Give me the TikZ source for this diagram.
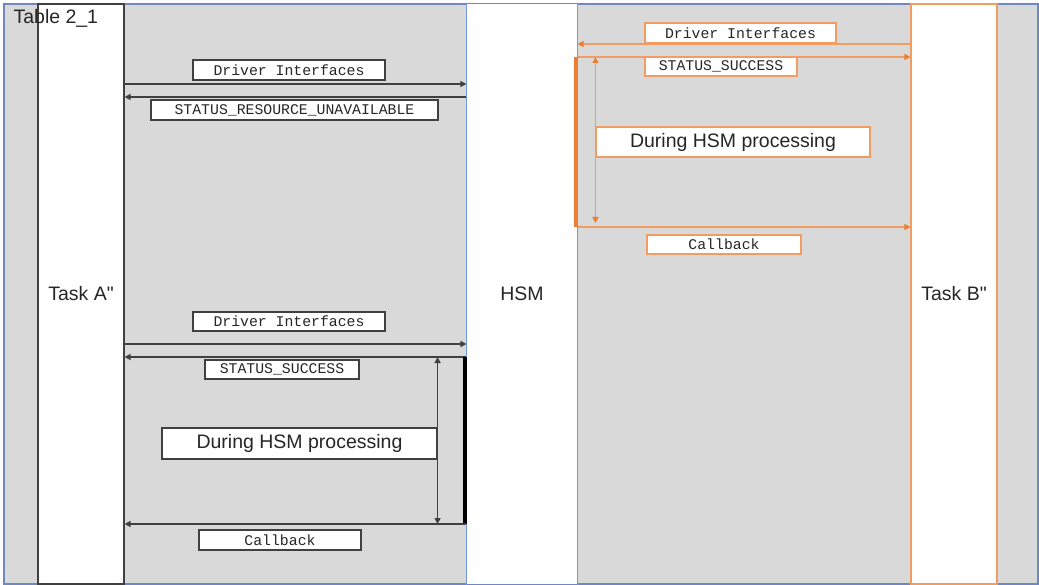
\documentclass[tikz,border=0pt]{standalone}
\usepackage{fontspec}
\setmainfont{Liberation Sans}[Ligatures=TeXOff]
\setmonofont{Liberation Mono}
\usetikzlibrary{positioning, arrows.meta, calc}
\definecolor{sqFill}{HTML}{D9D9D9}
\definecolor{sqLine}{HTML}{404040}
\definecolor{sqText}{HTML}{262626}
\definecolor{sqFrame}{HTML}{6F88BF}
\definecolor{sqBlue}{HTML}{7297DB}
\definecolor{sqOrange}{HTML}{ED7D31}
\definecolor{sqPeach}{HTML}{F29C62}
\tikzset{
  sq/.style={x=1pt, y=-1pt, line width=1.1pt, text=sqText, font=\fontsize{19.5}{22}\selectfont},
  frame/.style={draw=sqFrame, fill=sqFill, minimum width=1034, minimum height=580, inner sep=0pt},
  lane/.style={draw=sqLine, fill=white, minimum height=580, inner sep=0pt},
  msg/.style={draw=sqLine, fill=white, font=\ttfamily\fontsize{14.8}{16}\selectfont, minimum height=20, inner sep=0pt},
  note/.style={msg, font=\fontsize{19.5}{22}\selectfont, minimum height=31},
  omsg/.style={msg, draw=sqPeach},
  onote/.style={note, draw=sqPeach},
  arr/.style={draw=sqLine, line width=1.3pt, -{Triangle[length=6pt, width=6pt]}},
  both/.style={draw=sqLine, line width=1.3pt, {Triangle[length=6pt, width=6pt]}-{Triangle[length=6pt, width=6pt]}},
  oarr/.style={draw=sqPeach, line width=1.3pt, -{Triangle[length=6pt, width=6pt, sqOrange]}},
  oboth/.style={draw=sqPeach, line width=1.3pt, {Triangle[length=6pt, width=6pt, sqOrange]}-{Triangle[length=6pt, width=6pt, sqOrange]}},
}

\begin{document}
\begin{tikzpicture}[
  sq,
]
\useasboundingbox (0,0) rectangle (1039,585);
\node[frame] (frame) at (521,294) {};

% lanes
\node[lane, minimum width=86] (taskA) at (81,294) {Task A"};
\node[lane, draw=none, minimum width=110] (hsm) at (522,294) {HSM};
\draw[sqBlue] (hsm.north west) -- (hsm.south west);
\draw[sqBlue] (hsm.north east) -- (hsm.south east);
\node[lane, draw=sqPeach, minimum width=86] (taskB) at (954,294) {Task B"};

% Task A <-> HSM, rejected
\node[msg, minimum width=192] (di1) at (289,70) {Driver Interfaces};
\node[msg, minimum width=287] (sru) at (294.5,110) {STATUS\_RESOURCE\_UNAVAILABLE};
\draw[arr] (taskA.east |- 0,84) -- (hsm.west |- 0,84);
\draw[arr] (hsm.west |- 0,97) -- (taskA.east |- 0,97);

% Task A <-> HSM, accepted
\node[msg, minimum width=192, minimum height=19] (di2) at (289,321.5) {Driver Interfaces};
\node[msg, minimum width=154, minimum height=19] (ss1) at (282,369.5) {STATUS\_SUCCESS};
\node[note, minimum width=275] (hp1) at (299.5,443.5) {During HSM processing};
\node[msg, minimum width=162] (cb1) at (280,540) {Callback};
\draw[arr] (taskA.east |- 0,344) -- (hsm.west |- 0,344);
\draw[arr] (hsm.west |- 0,357) -- (taskA.east |- 0,357);
\draw[both] (hp1.east |- 0,357) -- (hp1.east |- 0,524);
\draw[line width=3.5pt, black] ([xshift=-1.5pt]hsm.west |- 0,357) -- ([xshift=-1.5pt]hsm.west |- 0,524);
\draw[arr] (hsm.west |- 0,524) -- (taskA.east |- 0,524);

% Task B <-> HSM
\node[omsg, minimum width=191] (di3) at (740.5,33) {Driver Interfaces};
\node[omsg, minimum width=152, minimum height=19] (ss2) at (721,66.5) {STATUS\_SUCCESS};
\node[onote, minimum width=274, minimum height=30] (hp2) at (733,142) {During HSM processing};
\node[omsg, minimum width=154, minimum height=19] (cb2) at (724,244.5) {Callback};
\draw[oarr] (taskB.west |- 0,44) -- (hsm.east |- 0,44);
\draw[oarr] (hsm.east |- 0,57) -- (taskB.west |- 0,57);
\draw[oboth] (hp2.west |- 0,57) -- (hp2.west |- 0,223);
\draw[line width=3.5pt, sqOrange] ([xshift=-1.5pt]hsm.east |- 0,57) -- ([xshift=-1.5pt]hsm.east |- 0,227);
\draw[oarr] (hsm.east |- 0,227) -- (taskB.west |- 0,227);

\node[anchor=base west, inner sep=0pt] (title) at (13,24) {Table 2\_1};
\end{tikzpicture}
\end{document}
